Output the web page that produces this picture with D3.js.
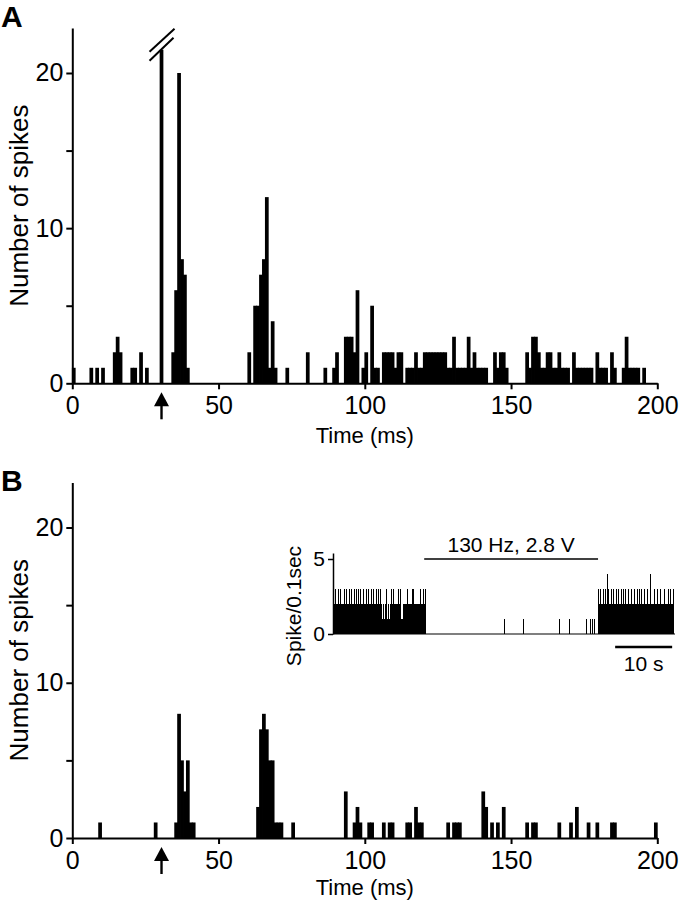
<!DOCTYPE html>
<html><head><meta charset="utf-8">
<script src="https://cdn.jsdelivr.net/npm/d3@7"></script>
<style>
body{margin:0;background:#fff}
svg{display:block}
text{font-family:"Liberation Sans",Arial,Helvetica,sans-serif;fill:#000}
</style>
</head><body>
<svg id="chart" width="679" height="900"></svg>
<script>
// ---------------- DATA ----------------
const timeTicks = [0, 50, 100, 150, 200];
const countTicks = [0, 5, 10, 15, 20];
const countLabels = [0, 10, 20];
const binWidthMs = 1;
const stimTimeMs = 30.5;

// Panel A: [bin start (ms), number of spikes]
const histA = [
  [0,1],[6,1],[8,1],[10,1],[14,2],[15,3],[16,2],[20,1],[21,1],[23,2],[25,1],
  [34,2],[35,6],[36,20],[37,8],[38,7],[39,1],
  [60,2],[62,5],[63,5],[64,7],[65,8],[66,12],[67,1],[68,4],[69,1],[73,1],[80,2],[86,1],[89,1],[90,2],
  [93,3],[94,3],[95,3],[96,2],[97,6],[99,1],[100,2],[102,5],[103,1],[104,1],[106,2],[107,2],[108,2],[109,2],
  [110,1],[111,2],[112,2],[114,1],[115,1],[116,1],[117,2],[118,1],[119,1],
  [120,2],[121,2],[122,2],[123,2],[124,2],[125,2],[126,2],[127,2],[128,1],[129,1],[130,3],[131,1],[132,1],
  [133,1],[134,1],[135,3],[136,1],[137,2],[138,1],[139,1],[140,1],[141,1],[144,2],[145,1],[146,2],[147,2],[148,1],
  [155,2],[156,1],[157,3],[158,3],[159,2],[160,1],[161,1],[162,2],[163,2],[164,1],[165,1],[166,2],[167,1],
  [168,1],[169,1],[171,2],[172,1],[173,1],[174,1],[175,1],[176,1],[177,1],[179,2],[180,1],[181,1],[182,1],
  [184,2],[185,1],[188,1],[189,3],[190,1],[191,1],[192,1],[193,1],[195,1]
];
// stimulus artefact bin in panel A (axis broken above it)
const stimArtifactA = [[30, 21.5]];

// Panel B: [bin start (ms), number of spikes]
const histB = [
  [9,1],[28,1],[35,1],[36,8],[37,5],[38,3],[39,5],[40,1],[41,1],
  [63,2],[64,7],[65,8],[66,7],[67,5],[68,5],[69,1],[70,1],[71,1],[75,1],
  [93,3],[96,1],[97,2],[98,1],[101,1],[102,1],[106,1],[108,1],[109,1],
  [114,1],[115,1],[117,2],[118,1],[119,1],[128,1],[130,1],[131,1],[132,1],
  [140,3],[141,2],[143,1],[145,1],[147,2],[155,1],[157,1],[158,1],
  [166,1],[170,1],[172,2],[176,1],[179,1],[184,1],[185,1],[199,1]
];

// Inset: spikes per 0.1 s bin over 60 s
const insetTicks = [0, 5];
const insetBinSec = 0.1;
const insetDomainSec = [0, 60];
const stimPeriodSec = [16, 46.5];
const stimLabel = "130 Hz, 2.8 V";
const scaleBarSec = [49.5, 59.5];
const scaleBarLabel = "10 s";
const insetPreStartBin = 0;
const insetPre =
  "2223222223" + "2223222223" + "2232212232" + "2232222322" + "3222322132" +
  "2232222232" + "2232223222" + "3222232223" + "2231121121" + "1123112111" +
  "2322232222" + "2222322231" + "1112222223" + "2222222232" + "3222222222" +
  "2223222232" + "23";
const insetStimSpikeBins = [300, 333, 396, 414, 444, 451, 455, 458];
const insetPostStartBin = 465;
const insetPost =
  "3223222232" + "2232242232" + "2232222322" + "2322232222" + "3222322232" +
  "2223222322" + "2223222232" + "2232223222" + "2322232222" + "2422222223" +
  "2222322223" + "2222223222" + "1223223222" + "223";

// ---------------- DRAW ----------------
const svg = d3.select("#chart");
const FONT = '"Liberation Sans",Arial,Helvetica,sans-serif';

const x = d3.scaleLinear().domain([0, 200]).range([72.3, 657.3]);
const binPx = x(binWidthMs) - x(0);

function panel(yScale, data, label, labelY, titleY, titleX) {
  const g = svg.append("g");
  // bars
  g.selectAll("rect.bar").data(data).join("rect")
    .attr("x", d => x(d[0]) - 0.4)
    .attr("width", binPx + 0.8)
    .attr("y", d => yScale(d[1]))
    .attr("height", d => yScale(0) - yScale(d[1]))
    .attr("fill", "#000");
  // y axis
  const ya = g.append("g").attr("transform", `translate(${x(0)},0)`)
    .call(d3.axisLeft(yScale).tickValues(countTicks).tickSize(6).tickSizeOuter(0).tickPadding(3)
      .tickFormat(d => countLabels.includes(d) ? d : ""));
  // x axis
  const xa = g.append("g").attr("transform", `translate(0,${yScale(0)})`)
    .call(d3.axisBottom(x).tickValues(timeTicks).tickSize(6).tickSizeOuter(0).tickPadding(7));
  [ya, xa].forEach(a => {
    a.select(".domain").attr("stroke-width", 2);
    a.selectAll(".tick line").attr("stroke-width", 2);
    a.selectAll("text").attr("font-size", 25).attr("font-family", FONT);
  });
  // axis titles
  g.append("text").attr("x", titleX).attr("y", titleY).attr("text-anchor", "middle")
    .attr("font-size", 22).text("Time (ms)");
  const yc = (yScale(0) + yScale(22.9)) / 2;
  g.append("text").attr("transform", `translate(28,${yc}) rotate(-90)`)
    .attr("text-anchor", "middle").attr("font-size", 26).text("Number of spikes");
  // panel letter
  g.append("text").attr("x", 1).attr("y", labelY).attr("font-size", 30)
    .attr("font-weight", "bold").text(label);
  // stimulus arrow
  const ax = x(stimTimeMs), y0 = yScale(0);
  g.append("line").attr("x1", ax).attr("x2", ax).attr("y1", y0 + 20).attr("y2", y0 + 36)
    .attr("stroke", "#000").attr("stroke-width", 2.4);
  g.append("path").attr("d", `M${ax},${y0 + 9} L${ax - 7.5},${y0 + 23} L${ax + 7.5},${y0 + 23} Z`)
    .attr("fill", "#000");
  return g;
}

const yA = d3.scaleLinear().domain([0, 22.9]).range([383.3, 28]);
const yB = d3.scaleLinear().domain([0, 22.9]).range([838, 482.5]);

const gA = panel(yA, histA, "A", 27, 443, x(100));
const gB = panel(yB, histB, "B", 491, 895, x(100));

// stimulus artefact bar with axis break (panel A)
gA.selectAll("rect.art").data(stimArtifactA).join("rect")
  .attr("x", d => x(d[0]) - 0.4)
  .attr("width", binPx + 0.8)
  .attr("y", d => yA(d[1]))
  .attr("height", d => yA(0) - yA(d[1]))
  .attr("fill", "#000");
{
  const cx = x(stimArtifactA[0][0] + 0.5), top = yA(stimArtifactA[0][1]);
  [[-12, 11, 12, -12], [-12, 2, 13, -21]].forEach(o => {
    gA.append("line")
      .attr("x1", cx + o[0]).attr("y1", top + o[1])
      .attr("x2", cx + o[2]).attr("y2", top + o[3])
      .attr("stroke", "#000").attr("stroke-width", 2);
  });
}

// ---------------- INSET ----------------
const xi = d3.scaleLinear().domain(insetDomainSec).range([333, 675]);
const yi = d3.scaleLinear().domain([0, 5.4]).range([634, 553]);
const insetBins = [];
insetPre.split("").forEach((c, i) => insetBins.push([insetPreStartBin + i, +c]));
insetStimSpikeBins.forEach(b => insetBins.push([b, 1]));
insetPost.split("").forEach((c, i) => insetBins.push([insetPostStartBin + i, +c]));

const gi = svg.append("g");
gi.append("line").attr("x1", xi(0)).attr("x2", xi(60)).attr("y1", yi(0)).attr("y2", yi(0))
  .attr("stroke", "#000").attr("stroke-width", 1.2);
gi.selectAll("rect").data(insetBins).join("rect")
  .attr("x", d => xi(d[0] * insetBinSec))
  .attr("width", 1)
  .attr("y", d => yi(d[1]))
  .attr("height", d => yi(0) - yi(d[1]))
  .attr("fill", "#000")
  .attr("shape-rendering", "crispEdges");
const yia = gi.append("g").attr("transform", `translate(${xi(0)},0)`)
  .call(d3.axisLeft(yi).tickValues(insetTicks).tickSize(5).tickSizeOuter(0).tickPadding(3)
    .tickFormat(d3.format("d")));
yia.select(".domain").attr("stroke-width", 1.5);
yia.selectAll(".tick line").attr("stroke-width", 1.5);
yia.selectAll("text").attr("font-size", 21).attr("font-family", FONT);
gi.append("text").attr("transform", `translate(301,606) rotate(-90)`)
  .attr("text-anchor", "middle").attr("font-size", 21).text("Spike/0.1sec");
// stimulation bar
gi.append("line").attr("x1", xi(stimPeriodSec[0])).attr("x2", xi(stimPeriodSec[1]))
  .attr("y1", yi(5)).attr("y2", yi(5)).attr("stroke", "#000").attr("stroke-width", 1.5);
gi.append("text").attr("x", (xi(stimPeriodSec[0]) + xi(stimPeriodSec[1])) / 2).attr("y", yi(5) - 7)
  .attr("text-anchor", "middle").attr("font-size", 21).text(stimLabel);
// scale bar
gi.append("line").attr("x1", xi(scaleBarSec[0])).attr("x2", xi(scaleBarSec[1]))
  .attr("y1", yi(0) + 13).attr("y2", yi(0) + 13).attr("stroke", "#000").attr("stroke-width", 2.5);
gi.append("text").attr("x", (xi(scaleBarSec[0]) + xi(scaleBarSec[1])) / 2).attr("y", yi(0) + 37)
  .attr("text-anchor", "middle").attr("font-size", 21).text(scaleBarLabel);
</script>
</body></html>
